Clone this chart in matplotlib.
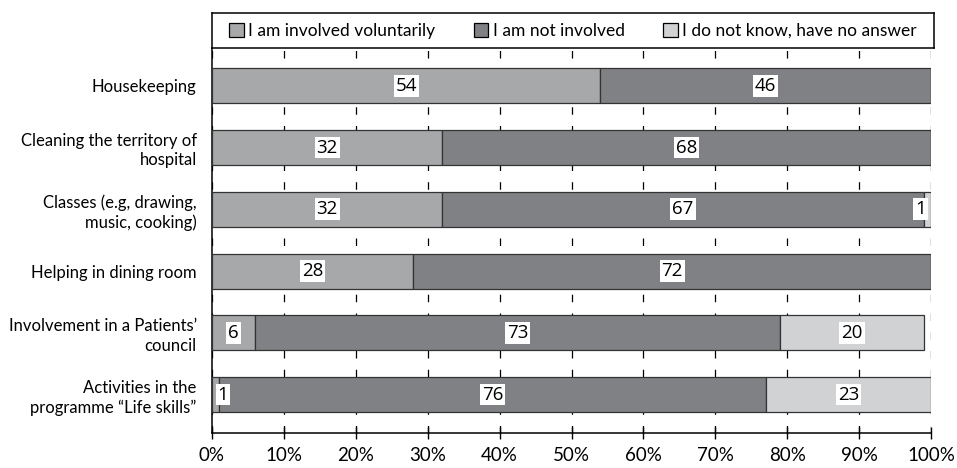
import numpy as np
import matplotlib.pyplot as plt
from matplotlib.patches import Patch

plt.rcParams['font.family'] = ['Lato', 'DejaVu Sans']

categories = ['Housekeeping',
              'Cleaning the territory of\nhospital',
              'Classes (e.g, drawing,\nmusic, cooking)',
              'Helping in dining room',
              'Involvement in a Patients\u2019\ncouncil',
              'Activities in the\nprogramme \u201cLife skills\u201d']
voluntary = [54, 32, 32, 28, 6, 1]
not_involved = [46, 68, 67, 72, 73, 76]
no_answer = [0, 0, 1, 0, 20, 23]

series = [('I am involved voluntarily', voluntary, '#a7a8aa'),
          ('I am not involved', not_involved, '#808184'),
          ('I do not know, have no answer', no_answer, '#d1d2d4')]

fig = plt.figure(figsize=(9.57, 4.68), dpi=100)
ax = fig.add_axes([0.2215, 0.075, 0.7515, 0.822])

y = np.arange(len(categories))
left = np.zeros(len(categories))
for name, vals, col in series:
    vals = np.array(vals, dtype=float)
    ax.barh(y, vals, left=left, height=0.57, color=col, edgecolor='#333333',
            linewidth=0.9, zorder=3)
    for yi, l, v in zip(y, left, vals):
        if v <= 0:
            continue
        xc = min(max(l + v / 2, 1.5), 98.5)
        ax.text(xc, yi, f'{int(v)}', ha='center', va='center', fontsize=13.5,
                family=['Open Sans', 'DejaVu Sans'], zorder=5,
                bbox=dict(boxstyle='square,pad=0.1', fc='white', ec='none'))
    left += vals

ax.set_xlim(0, 100)
ax.set_ylim(5.62, -0.61)
ax.set_xticks(np.arange(0, 101, 10))
ax.set_xticklabels([f'{t}%' for t in range(0, 101, 10)], fontsize=13.5)
ax.set_yticks(y)
ax.set_yticklabels(categories, fontsize=12, linespacing=1.25)
ax.tick_params(axis='y', length=0, pad=11)
ax.tick_params(axis='x', direction='inout', length=9, width=1, pad=6, color='black')
ax.xaxis.grid(True, color='black', linestyle=(0, (6, 9)), linewidth=0.9, zorder=0)
ax.set_axisbelow(True)
for s in ['top', 'right']:
    ax.spines[s].set_visible(False)
for s in ['left', 'bottom']:
    ax.spines[s].set_color('black')
    ax.spines[s].set_linewidth(1.1)

# legend box above the plot
lax = fig.add_axes([0.2215, 0.897, 0.7545, 0.075])
lax.set_xticks([])
lax.set_yticks([])
for s in lax.spines.values():
    s.set_linewidth(1.1)
handles = [Patch(facecolor=c, edgecolor='black', linewidth=0.9, label=n) for n, _, c in series]
lax.legend(handles=handles, loc='center', ncol=3, frameon=False, fontsize=12.5,
           handlelength=0.85, handleheight=0.85, handletextpad=0.25, columnspacing=2.2,
           borderaxespad=0)

fig.savefig('out.png', dpi=100)
